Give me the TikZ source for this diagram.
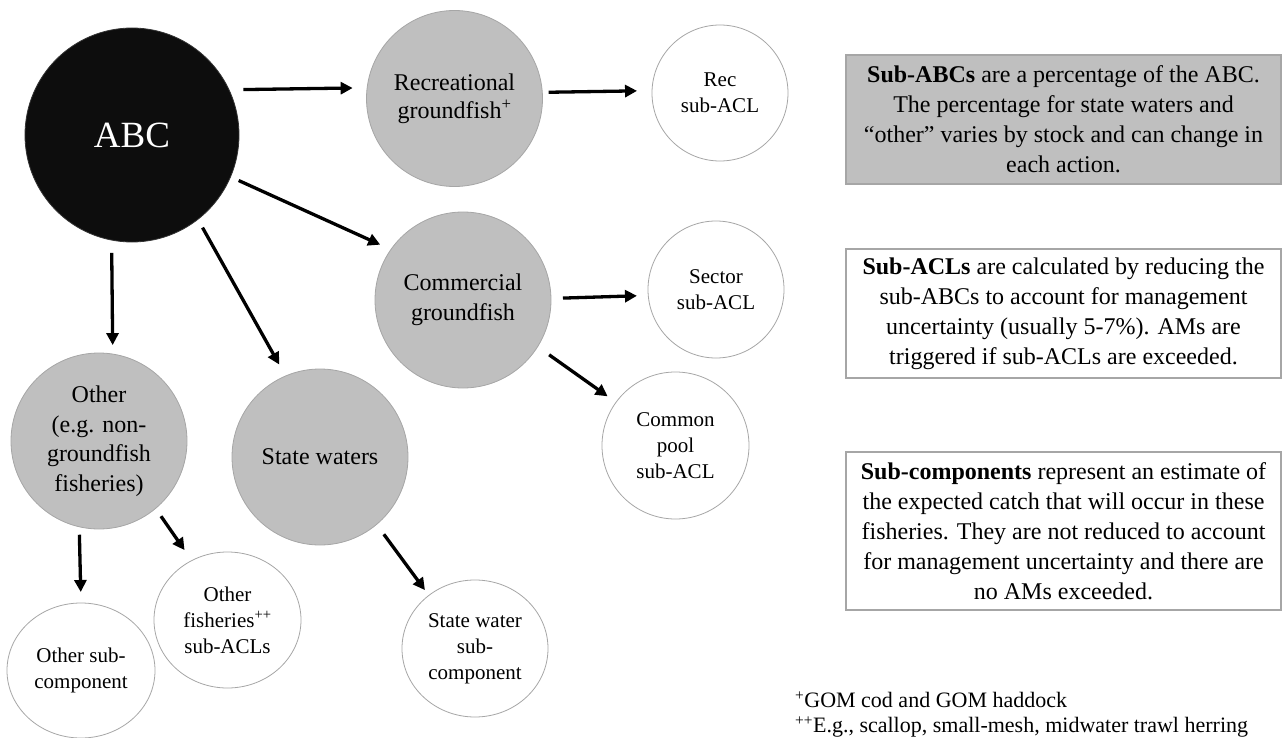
\documentclass[tikz,border=0pt]{standalone}
\usepackage{fontspec}
\setmainfont{Liberation Serif}
\usetikzlibrary{arrows.meta,shapes.geometric}
\definecolor{grayfill}{HTML}{BFBFBF}
\definecolor{edgegray}{HTML}{A6A6A6}
\definecolor{abcfill}{HTML}{0D0D0D}
\begin{document}
\begin{tikzpicture}[x=1bp,y=-1bp,
  graynode/.style={circle,fill=grayfill,draw=edgegray,line width=0.8bp,minimum size=176bp,inner sep=0pt,outer sep=0pt,align=center,font=\fontsize{24bp}{28bp}\selectfont},
  whitenode/.style={ellipse,fill=white,draw=edgegray,line width=0.8bp,inner sep=0pt,outer sep=0pt,align=center,font=\fontsize{21bp}{26bp}\selectfont},
  arr/.style={line width=3.3bp,-{Triangle[length=12bp,width=12bp]}},
  infobox/.style={rectangle,draw=edgegray,line width=1.2bp,minimum width=435bp,inner sep=0pt,outer sep=0pt,align=center,font=\fontsize{24bp}{30bp}\selectfont}]
\useasboundingbox (0,0) rectangle (1282,738);

% main nodes
\node[circle,fill=abcfill,draw=black!80,line width=0.8bp,minimum size=214bp,inner sep=0pt,outer sep=0pt,text=white,font=\fontsize{37bp}{40bp}\selectfont] (abc) at (132,135) {ABC};
\node[graynode] (rec) at (454.5,98.5) {Recreational\\groundfish\textsuperscript{+}};
\node[graynode,font=\fontsize{24bp}{30bp}\selectfont] (com) at (463,300) {Commercial\\groundfish};
\node[graynode] (state) at (320,457) {State waters};
\node[graynode,font=\fontsize{24bp}{29.5bp}\selectfont] (other) at (99,441) {Other\\(e.g. non-\\groundfish\\fisheries)};

% sub nodes
\node[whitenode,minimum width=136bp,minimum height=136bp] (recacl) at (720,93) {Rec\\sub-ACL};
\node[whitenode,minimum width=136bp,minimum height=137bp] (sector) at (716,289.5) {Sector\\sub-ACL};
\node[whitenode,minimum width=147bp,minimum height=147bp] (common) at (675.5,445.5) {Common\\pool\\sub-ACL};
\node[whitenode,minimum width=146bp,minimum height=137bp] (statesub) at (475,648.5) {State water\\sub-\\component};
\node[whitenode,minimum width=148bp,minimum height=135bp] (othersub) at (81,670.5) {Other sub-\\component};
\node[whitenode,minimum width=147bp,minimum height=136bp] (otherfish) at (227.5,620) {Other\\fisheries\textsuperscript{++}\\sub-ACLs};

% arrows
\draw[arr,shorten <=14.4bp,shorten >=14.5bp] (abc.25.5) -- (rec.173.8);
\draw[arr,shorten <=6.3bp,shorten >=15bp] (rec.4.9) -- (recacl.178.3);
\draw[arr,shorten <=9bp,shorten >=11.75bp] (abc.-23.9) -- (com.145.2);
\draw[arr,shorten <=9.5bp,shorten >=13.2bp] (abc.-52.3) -- (state.113.9);
\draw[arr,shorten <=12.9bp,shorten >=9bp] (abc.259.2) -- (other.81.5);
\draw[arr,shorten <=12bp,shorten >=11.3bp] (com.1.3) -- (sector.185.5);
\draw[arr,shorten <=14.1bp,shorten >=10.3bp] (com.-32) -- (common.144.2);
\draw[arr,shorten <=12.25bp,shorten >=6.6bp] (state.-50.8) -- (statesub.131);
\draw[arr,shorten <=8bp,shorten >=11bp] (other.257.5) -- (othersub.90.8);
\draw[arr,shorten <=9.5bp,shorten >=12.7bp] (other.-50.8) -- (otherfish.121.6);

% info boxes
\node[infobox,fill=grayfill,minimum height=129bp] (box1) at (1063.5,119.5) {\textbf{Sub-ABCs} are a percentage of the ABC.\\The percentage for state waters and\\“other” varies by stock and can change in\\each action.};
\node[infobox,fill=white,minimum height=129bp] (box2) at (1063.5,313.5) {\textbf{Sub-ACLs} are calculated by reducing the\\sub-ABCs to account for management\\uncertainty (usually 5-7\%). AMs are\\triggered if sub-ACLs are exceeded.};
\node[infobox,fill=white,minimum height=158bp] (box3) at (1063.5,531) {\textbf{Sub-components} represent an estimate of\\the expected catch that will occur in these\\fisheries. They are not reduced to account\\for management uncertainty and there are\\no AMs exceeded.};

% footnotes
\node[anchor=west,align=left,inner sep=0pt,font=\fontsize{22bp}{25bp}\selectfont] (notes) at (795,714.5) {\textsuperscript{+}GOM cod and GOM haddock\\\textsuperscript{++}E.g., scallop, small-mesh, midwater trawl herring};
\end{tikzpicture}
\end{document}
